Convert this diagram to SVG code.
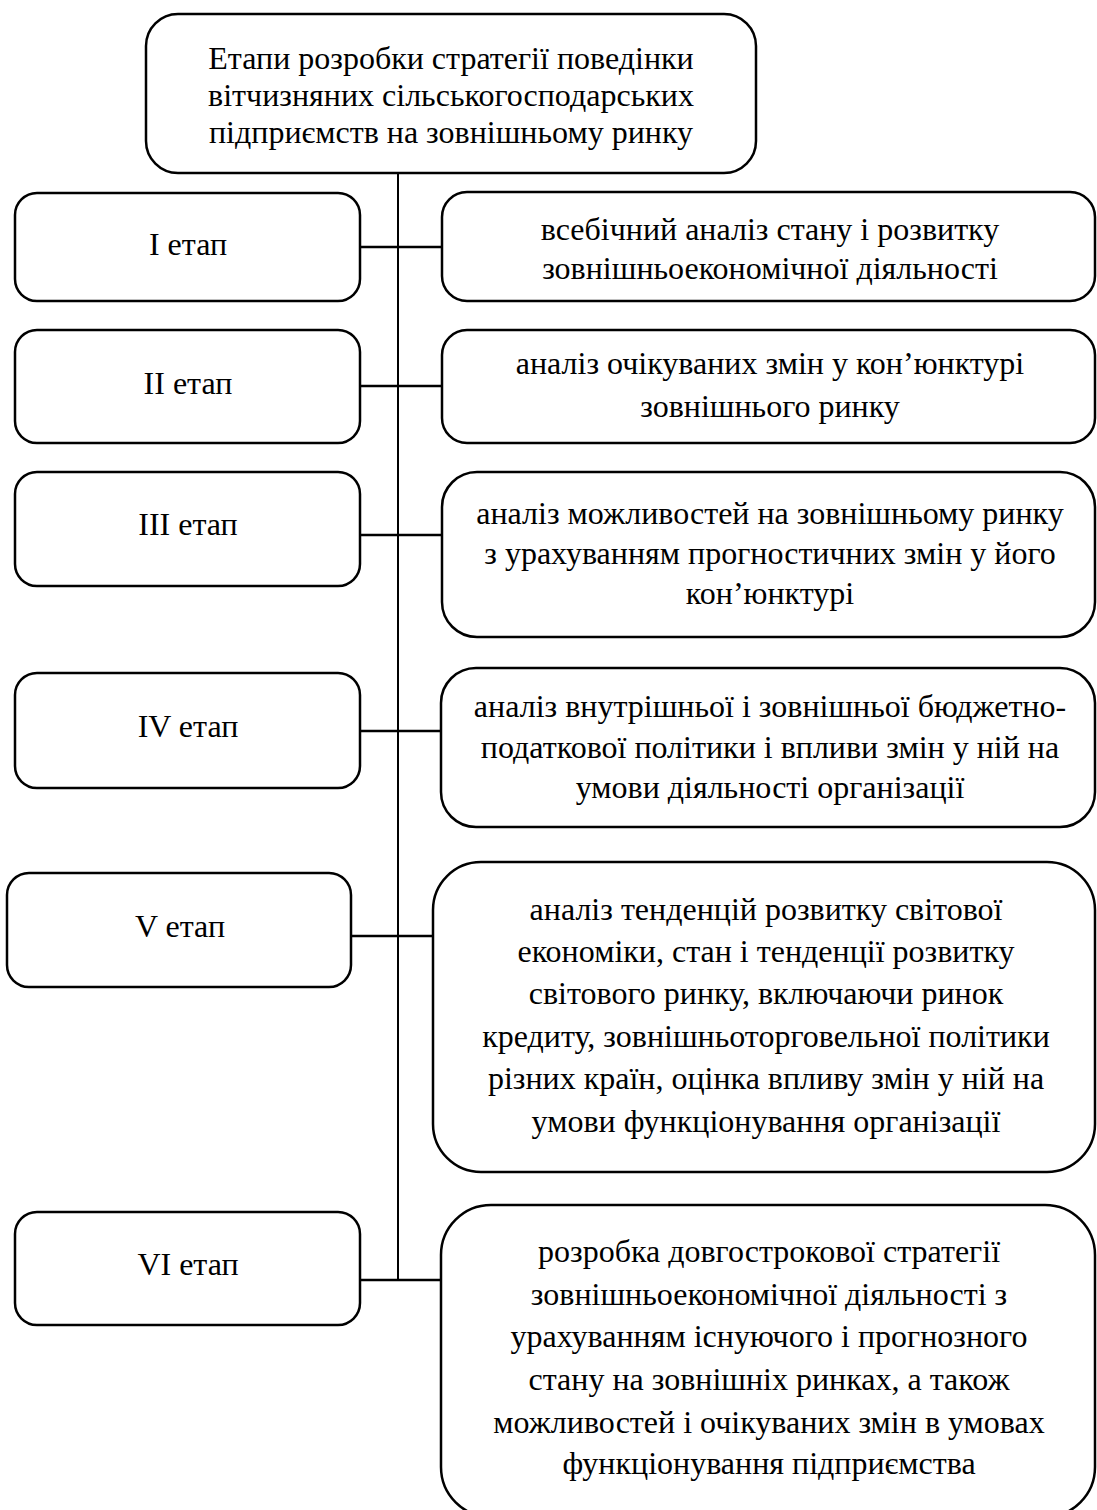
<svg xmlns="http://www.w3.org/2000/svg" width="1097" height="1510" viewBox="0 0 1097 1510">
<style>
.box{fill:#fff;stroke:#000;stroke-width:2.5}
.t{font-family:"Liberation Serif","Times New Roman",serif;font-size:32px;fill:#000;text-anchor:middle}
.c{stroke:#000;fill:none}
</style>
<rect width="1097" height="1510" fill="#fff"/>
<g id="connectors">
<line class="c" x1="398" y1="173" x2="398" y2="1280" stroke-width="2"/>
<line class="c" x1="360" y1="247" x2="442" y2="247" stroke-width="2.5"/>
<line class="c" x1="360" y1="386" x2="442" y2="386" stroke-width="2.5"/>
<line class="c" x1="360" y1="535" x2="442" y2="535" stroke-width="2.5"/>
<line class="c" x1="360" y1="731" x2="441" y2="731" stroke-width="2.5"/>
<line class="c" x1="351" y1="936" x2="433" y2="936" stroke-width="2.5"/>
<line class="c" x1="360" y1="1280" x2="441" y2="1280" stroke-width="2.5"/>
</g>
<g id="title">
<rect class="box" x="146" y="14" width="610" height="159" rx="32"/>
<text class="t" x="451" y="69">Етапи розробки стратегії поведінки</text>
<text class="t" x="451" y="106">вітчизняних сільськогосподарських</text>
<text class="t" x="451" y="143">підприємств на зовнішньому ринку</text>
</g>
<g id="stage1">
<rect class="box" x="15" y="193" width="345" height="108" rx="22"/>
<text class="t" x="188" y="255">I етап</text>
</g>
<g id="desc1">
<rect class="box" x="442" y="192" width="653" height="109" rx="25"/>
<text class="t" x="770" y="240">всебічний аналіз стану і розвитку</text>
<text class="t" x="770" y="279">зовнішньоекономічної діяльності</text>
</g>
<g id="stage2">
<rect class="box" x="15" y="330" width="345" height="113" rx="22"/>
<text class="t" x="188" y="394">II етап</text>
</g>
<g id="desc2">
<rect class="box" x="442" y="330" width="653" height="113" rx="25"/>
<text class="t" x="770" y="374">аналіз очікуваних змін у кон’юнктурі</text>
<text class="t" x="770" y="417">зовнішнього ринку</text>
</g>
<g id="stage3">
<rect class="box" x="15" y="472" width="345" height="114" rx="22"/>
<text class="t" x="188" y="535">III етап</text>
</g>
<g id="desc3">
<rect class="box" x="442" y="472" width="653" height="165" rx="35"/>
<text class="t" x="770" y="524">аналіз можливостей на зовнішньому ринку</text>
<text class="t" x="770" y="564">з урахуванням прогностичних змін у його</text>
<text class="t" x="770" y="604">кон’юнктурі</text>
</g>
<g id="stage4">
<rect class="box" x="15" y="673" width="345" height="115" rx="22"/>
<text class="t" x="188" y="737">IV етап</text>
</g>
<g id="desc4">
<rect class="box" x="441" y="668" width="654" height="159" rx="35"/>
<text class="t" x="770" y="717">аналіз внутрішньої і зовнішньої бюджетно-</text>
<text class="t" x="770" y="758">податкової політики і впливи змін у ній на</text>
<text class="t" x="770" y="798">умови діяльності організації</text>
</g>
<g id="stage5">
<rect class="box" x="7" y="873" width="344" height="114" rx="22"/>
<text class="t" x="180" y="937">V етап</text>
</g>
<g id="desc5">
<rect class="box" x="433" y="862" width="662" height="310" rx="48"/>
<text class="t" x="766" y="920">аналіз тенденцій розвитку світової</text>
<text class="t" x="766" y="962">економіки, стан і тенденції розвитку</text>
<text class="t" x="766" y="1004">світового ринку, включаючи ринок</text>
<text class="t" x="766" y="1047">кредиту, зовнішньоторговельної політики</text>
<text class="t" x="766" y="1089">різних країн, оцінка впливу змін у ній на</text>
<text class="t" x="766" y="1132">умови функціонування організації</text>
</g>
<g id="stage6">
<rect class="box" x="15" y="1212" width="345" height="113" rx="22"/>
<text class="t" x="188" y="1275">VI етап</text>
</g>
<g id="desc6">
<rect class="box" x="441" y="1205" width="654" height="312" rx="50"/>
<text class="t" x="769" y="1262">розробка довгострокової стратегії</text>
<text class="t" x="769" y="1305">зовнішньоекономічної діяльності з</text>
<text class="t" x="769" y="1347">урахуванням існуючого і прогнозного</text>
<text class="t" x="769" y="1390">стану на зовнішніх ринках, а також</text>
<text class="t" x="769" y="1433">можливостей і очікуваних змін в умовах</text>
<text class="t" x="769" y="1474">функціонування підприємства</text>
</g>
</svg>
